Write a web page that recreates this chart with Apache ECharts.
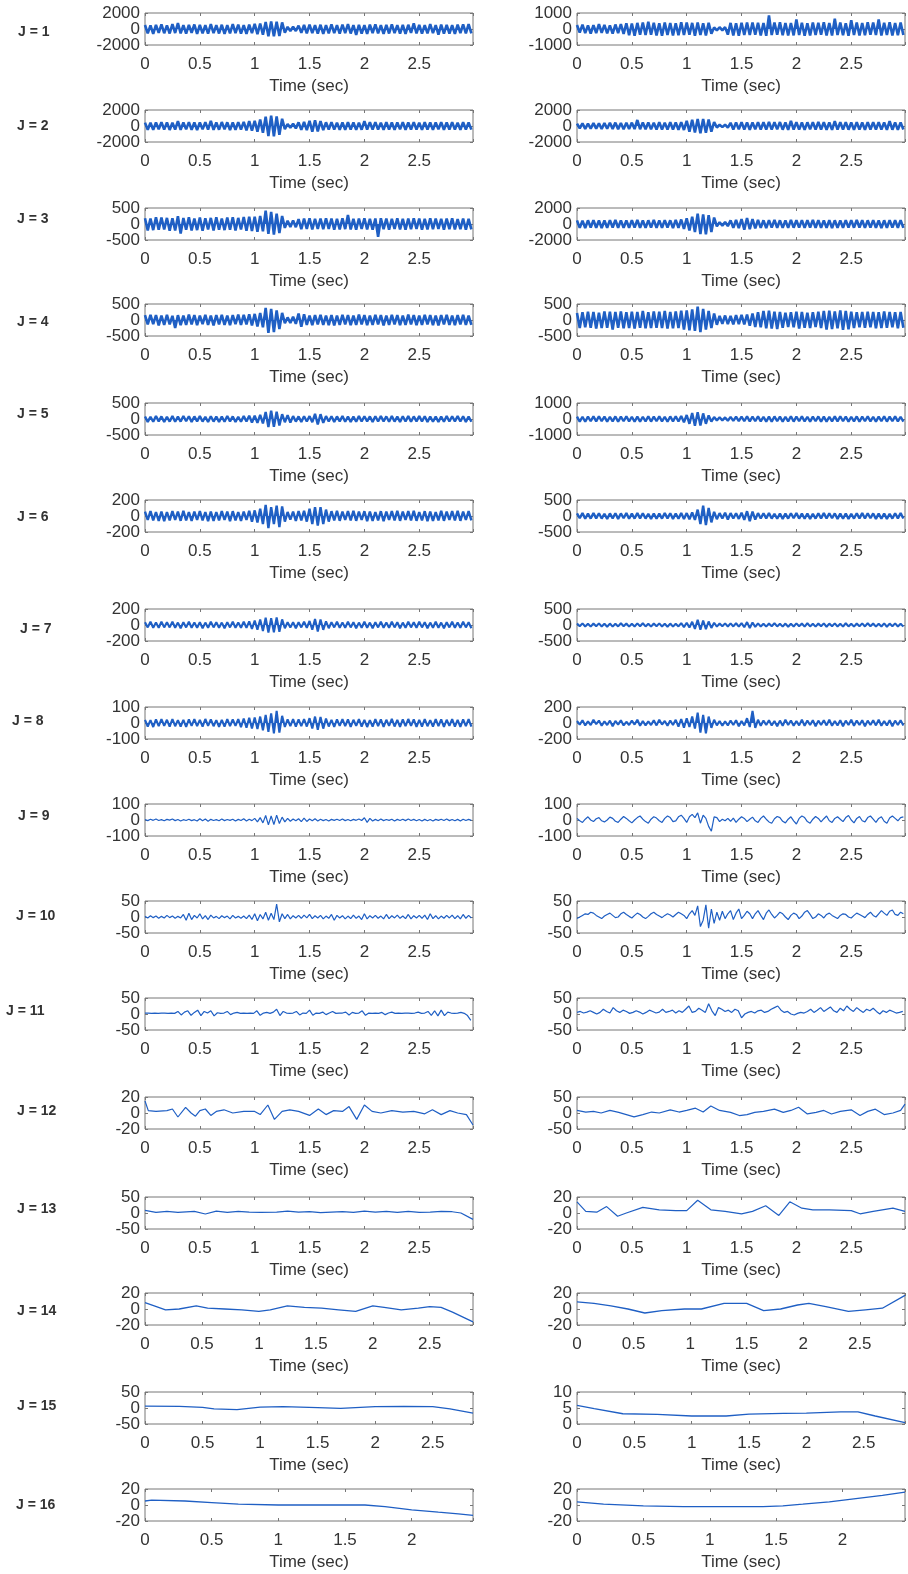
<!DOCTYPE html>
<html><head><meta charset="utf-8">
<script src="https://cdn.jsdelivr.net/npm/echarts@6/dist/echarts.min.js"></script>
<style>html,body{margin:0;padding:0;background:#fff}#c{width:908px;height:1574px}</style>
</head><body><div id="c"></div>
<script>
// ---------- DATA ----------
const rowLabels = ['J = 1','J = 2','J = 3','J = 4','J = 5','J = 6','J = 7','J = 8','J = 9','J = 10','J = 11','J = 12','J = 13','J = 14','J = 15','J = 16'];
const xTickLabels = ['0','0.5','1','1.5','2','2.5'];
const xMaxL = [2.99,2.99,2.99,2.99,2.99,2.99,2.99,2.99,2.99,2.99,2.99,2.99,2.99,2.88,2.85,2.46];
const xMaxR = [2.99,2.99,2.99,2.99,2.99,2.99,2.99,2.99,2.99,2.99,2.99,2.99,2.99,2.9,2.86,2.47];
const yMinL = [-2000,-2000,-500,-500,-500,-200,-200,-100,-100,-50,-50,-20,-50,-20,-50,-20];
const yMaxL = [2000,2000,500,500,500,200,200,100,100,50,50,20,50,20,50,20];
const yMinR = [-1000,-2000,-2000,-500,-1000,-500,-500,-200,-100,-50,-50,-50,-20,-20,0,-20];
const yMaxR = [1000,2000,2000,500,1000,500,500,200,100,50,50,50,20,20,10,20];
const sampleDuration = 3; // seconds covered by the evenly sampled traces

const R1L = [500,-550,460,-600,520,-480,580,-530,450,-560,600,-500,750,-540,480,-590,520,-470,560,-610,500,-540,470,-580,610,-520,490,-560,530,-600,470,-550,620,-500,540,-580,480,-610,550,-520,650,-640,680,-700,880,-900,950,-920,900,-880,820,-450,260,-240,280,-250,420,-470,500,-530,560,-520,480,-570,530,-600,490,-550,580,-510,470,-590,540,-500,600,-560,480,-750,520,-570,490,-610,550,-500,580,-540,470,-600,510,-560,590,-520,480,-570,500,-620,530,-490,700,-560,520,-590,480,-550,600,-520,490,-700,540,-580,510,-560,470,-600,550,-500,580,-540,620,-560];
const R1R = [250,-230,270,-260,220,-280,240,-250,300,-240,260,-270,230,-290,280,-250,310,-300,360,-390,340,-420,380,-350,410,-380,450,-360,390,-400,350,-420,400,-370,380,-410,360,-390,420,-370,400,-350,380,-420,410,-380,360,-400,390,-300,100,-90,110,-80,120,-350,380,-400,360,-420,390,-370,400,-380,410,-360,390,-400,370,-420,850,-380,400,-360,420,-390,370,-410,380,-400,600,-370,390,-420,360,-400,410,-380,390,-360,420,-400,380,-410,650,-370,400,-390,360,-420,550,-380,410,-400,370,-390,420,-360,400,-380,600,-410,390,-370,420,-400,380,-390,410,-370];
const R2L = [420,-460,400,-480,440,-410,470,-450,430,-490,410,-440,600,-470,450,-420,480,-460,430,-500,450,-420,470,-440,650,-480,430,-460,490,-420,460,-500,440,-470,480,-430,520,-560,600,-580,650,-700,800,-850,1150,-1250,1300,-1280,1200,-1100,900,-400,250,-230,280,-300,450,-480,500,-520,650,-700,720,-680,600,-500,460,-430,480,-450,420,-470,440,-460,470,-430,450,-480,420,-460,600,-440,470,-430,480,-450,420,-470,460,-440,430,-480,450,-420,470,-460,440,-430,480,-450,420,-470,460,-440,430,-480,450,-420,470,-460,440,-430,480,-450,420,-470,460,-440,430,-450];
const R2R = [300,-280,320,-350,300,-330,360,-320,340,-370,380,-350,400,-360,420,-390,380,-410,400,-370,420,-380,750,-400,430,-410,450,-420,400,-440,460,-430,420,-450,470,-440,430,-460,480,-500,650,-700,780,-820,880,-900,870,-850,800,-700,500,-180,150,-140,160,-200,400,-430,450,-420,470,-440,430,-460,450,-420,480,-440,460,-430,500,-450,470,-420,490,-460,430,-480,650,-440,470,-450,430,-490,460,-420,480,-450,500,-430,470,-460,440,-480,620,-450,470,-430,490,-460,440,-480,470,-450,430,-470,490,-440,460,-430,480,-450,440,-470,600,-460,430,-480,450,-440];
const R3L = [180,-200,170,-190,210,-180,200,-170,190,-210,180,-200,240,-300,190,-180,210,-200,170,-190,200,-210,180,-170,190,-200,210,-180,170,-190,200,-180,210,-200,190,-170,220,-210,230,-220,230,-240,250,-230,420,-310,380,-330,320,-280,250,-120,100,-90,110,-100,150,-160,170,-150,180,-170,160,-150,170,-160,180,-150,170,-180,160,-170,180,-160,280,-170,160,-180,170,-150,180,-170,160,-180,170,-400,180,-160,170,-180,160,-150,180,-170,160,-180,170,-160,180,-150,170,-180,160,-170,180,-160,170,-150,160,-180,170,-160,180,-170,150,-160,170,-180,160,-170];
const R3R = [450,-480,420,-500,460,-430,490,-470,440,-510,430,-460,480,-440,500,-470,450,-490,430,-460,480,-450,500,-470,440,-490,460,-430,510,-480,450,-470,490,-440,460,-500,520,-480,560,-600,700,-800,900,-1000,1300,-1250,1200,-1300,1100,-1000,800,-300,220,-200,240,-260,450,-480,500,-520,600,-700,750,-650,600,-550,500,-480,460,-500,480,-450,500,-470,460,-490,440,-480,500,-460,470,-450,490,-480,460,-440,500,-470,480,-460,450,-490,470,-500,460,-480,440,-470,490,-450,480,-460,500,-440,470,-490,460,-450,480,-470,440,-500,460,-480,490,-450,470,-460,480,-490];
const R4L = [150,-140,160,-130,150,-170,140,-150,160,-140,130,-250,150,-160,140,-150,170,-140,150,-160,140,-130,160,-150,140,-170,150,-140,160,-150,140,-160,150,-130,170,-150,160,-140,180,-170,190,-200,220,-230,380,-400,350,-380,300,-280,220,-100,80,-90,100,-120,200,-210,180,-150,140,-160,150,-140,160,-150,140,-160,150,-170,140,-150,160,-140,150,-160,140,-150,170,-140,150,-160,140,-150,160,-140,150,-170,140,-150,160,-140,150,-160,140,-150,170,-140,150,-160,140,-150,160,-140,150,-160,140,-170,150,-140,160,-150,140,-160,150,-140,160,-150,140,-150];
const R4R = [220,-250,240,-230,260,-240,250,-270,230,-250,270,-240,260,-300,250,-240,270,-260,240,-250,260,-270,250,-240,280,-260,240,-250,270,-240,260,-250,280,-270,250,-260,270,-250,290,-300,300,-320,330,-340,420,-380,350,-300,280,-250,200,-150,130,-120,140,-130,130,-140,150,-130,160,-140,170,-180,200,-220,240,-230,280,-260,290,-270,260,-280,250,-240,230,-220,240,-230,260,-270,250,-240,230,-250,240,-220,260,-250,280,-300,290,-280,270,-260,300,-310,280,-290,260,-250,240,-230,250,-240,260,-230,250,-260,240,-250,270,-240,250,-230,240,-260,250,-240];
const R5L = [80,-90,70,-85,90,-75,80,-95,70,-80,90,-85,75,-80,95,-70,85,-90,80,-75,90,-80,70,-95,85,-80,75,-90,80,-85,95,-75,80,-90,70,-85,90,-80,100,-110,100,-120,130,-140,220,-250,260,-240,230,-200,150,-100,120,-110,90,-80,80,-90,85,-80,90,-100,160,-170,150,-120,90,-80,85,-90,80,-75,90,-85,80,-90,75,-85,90,-80,85,-75,80,-90,85,-80,90,-75,80,-85,90,-80,75,-90,85,-80,90,-85,80,-75,90,-80,85,-90,80,-85,75,-90,80,-85,90,-80,85,-75,90,-80,85,-90,80,-85];
const R5R = [150,-160,140,-170,150,-140,160,-150,170,-140,150,-160,140,-150,160,-170,150,-140,160,-150,140,-170,150,-160,140,-150,170,-160,150,-140,160,-150,140,-170,160,-150,170,-160,190,-200,250,-300,380,-420,430,-400,350,-300,220,-160,120,-100,110,-90,100,-110,130,-120,140,-130,150,-140,160,-150,150,-140,160,-150,140,-160,150,-170,160,-140,150,-160,140,-150,170,-160,150,-140,160,-150,140,-160,150,-140,160,-170,150,-160,140,-150,160,-150,170,-140,150,-160,140,-150,160,-170,150,-140,160,-150,140,-160,150,-140,170,-160,150,-140,160,-150,140,-160];
const R6L = [55,-50,60,-55,50,-60,55,-65,50,-55,60,-50,55,-60,65,-55,50,-60,55,-50,60,-55,50,-65,55,-60,50,-55,60,-50,55,-65,60,-55,50,-60,55,-50,65,-70,70,-80,90,-100,140,-150,110,-100,130,-140,120,-70,50,-45,55,-60,60,-55,65,-70,90,-100,110,-120,110,-100,80,-70,60,-55,65,-60,55,-50,60,-55,65,-60,55,-50,60,-65,55,-60,50,-55,60,-65,55,-50,60,-55,65,-60,55,-50,60,-55,65,-60,50,-55,60,-65,55,-60,50,-55,65,-60,55,-50,60,-55,65,-60,55,-50,60,-55];
const R6R = [80,-70,90,-85,75,-80,90,-75,85,-80,70,-90,80,-75,85,-90,80,-70,90,-85,75,-80,90,-75,85,-80,70,-90,80,-85,75,-80,90,-75,85,-90,80,-85,90,-95,90,-100,110,-120,200,-250,320,-280,250,-200,130,-100,90,-80,100,-110,90,-80,85,-90,100,-120,150,-160,140,-110,90,-80,85,-75,90,-80,70,-85,80,-90,75,-80,85,-70,90,-80,75,-85,80,-90,70,-80,85,-75,90,-80,85,-70,80,-90,75,-85,80,-90,70,-80,85,-75,90,-80,85,-70,80,-90,75,-85,80,-90,70,-80,85,-75,90,-80];
const R7L = [35,-30,40,-35,30,-35,40,-30,35,-30,40,-35,30,-40,35,-30,40,-35,30,-35,35,-40,30,-35,40,-30,35,-35,30,-40,35,-30,40,-35,30,-35,40,-35,45,-50,55,-60,70,-75,90,-95,85,-90,95,-85,70,-40,35,-30,35,-40,35,-30,40,-35,50,-60,75,-80,70,-60,45,-40,35,-30,40,-35,30,-35,40,-30,35,-40,30,-35,40,-35,30,-40,35,-30,40,-35,30,-35,40,-30,35,-40,30,-35,40,-30,35,-35,40,-30,35,-40,30,-35,40,-35,30,-40,35,-30,40,-35,30,-35,40,-30,35,-40];
const R7R = [45,-40,50,-45,40,-50,45,-40,50,-45,40,-55,45,-50,40,-45,55,-40,45,-50,40,-45,50,-40,55,-45,40,-50,45,-40,50,-45,40,-55,45,-50,40,-45,60,-65,70,-80,100,-120,160,-150,140,-130,110,-90,70,-50,45,-40,50,-45,50,-45,55,-50,60,-70,90,-95,80,-60,50,-45,40,-50,45,-40,55,-45,40,-50,45,-55,40,-45,50,-40,45,-50,55,-45,40,-50,45,-40,50,-55,45,-40,50,-45,40,-50,55,-45,40,-50,45,-40,50,-45,55,-40,45,-50,40,-45,50,-55,45,-40,50,-45,40,-50];
const R8L = [20,-22,18,-25,22,-20,24,-18,20,-23,25,-20,18,-22,20,-25,22,-18,24,-20,20,-22,25,-18,22,-20,18,-24,20,-22,25,-20,22,-18,24,-26,28,-30,32,-35,35,-38,40,-45,50,-55,60,-65,75,-60,45,-25,22,-20,24,-22,22,-20,25,-22,30,-35,40,-42,38,-35,28,-22,20,-25,22,-18,24,-20,22,-25,20,-18,24,-22,20,-25,18,-22,24,-20,22,-25,20,-18,26,-22,20,-24,22,-20,25,-18,22,-24,20,-22,25,-20,18,-22,24,-20,22,-25,20,-18,24,-22,20,-25,22,-20,24,-22];
const R8R = [25,-20,35,-30,20,-25,40,-15,30,-35,20,-25,30,-40,25,-20,35,-30,15,-25,30,-20,40,-35,25,-30,20,-25,35,-30,40,-20,25,-35,30,-25,40,-45,50,-60,60,-50,80,-70,130,-120,100,-130,80,-60,40,-30,25,-35,20,-30,30,-25,35,-40,25,-30,60,-50,150,-60,40,-35,30,-25,35,-30,25,-40,30,-35,40,-25,30,-35,25,-30,40,-35,30,-25,35,-40,30,-25,35,-30,40,-35,25,-30,35,-40,30,-25,40,-35,30,-25,35,-40,30,-25,35,-30,40,-35,25,-30,35,-40,30,-25,35,-30];
const R9L = [3,-4,5,-2,6,-3,2,-5,4,-1,6,-4,3,-6,2,-3,5,-4,2,-6,8,-5,6,-8,4,-3,2,-5,6,-4,3,-2,5,-6,4,-3,8,-6,5,-4,10,-12,15,-18,28,-30,25,-28,30,-22,18,-12,10,-8,6,-5,8,-10,12,-9,6,-5,8,-6,5,-4,3,-6,4,-2,5,-3,6,-4,3,-5,4,-2,6,-3,14,-15,10,-6,4,-5,6,-4,3,-2,5,-6,4,-3,5,-4,6,-3,4,-5,3,-6,4,-5,3,-6,4,-2,5,-3,6,-4,3,-5,4,-6,5,-3,4,-2];
const R9R = [10,-5,-15,5,20,0,-10,8,15,-5,-12,0,18,10,-8,-15,5,22,10,-5,-18,0,15,25,5,-10,-20,5,20,12,-5,-15,10,25,15,-10,-5,20,30,10,-15,20,35,15,45,-20,30,10,-40,-70,20,15,-10,5,-5,10,-8,12,-15,5,20,10,-10,5,18,-5,-15,10,25,5,-12,-20,8,22,15,-8,-18,5,20,-5,-25,10,25,15,-10,-20,5,22,10,-12,8,25,-5,-15,10,20,5,-10,15,28,0,-18,10,22,-5,-12,15,25,5,-15,10,20,-8,-20,12,25,10,-5,15,20];
const R10L = [2,-3,4,-2,3,-4,2,-3,5,-2,3,-4,2,-3,8,-10,12,-8,5,-3,10,-6,4,-8,6,-3,2,-5,4,-2,3,-6,5,-3,2,-4,3,-5,6,-8,10,-12,8,-6,15,-10,12,-8,40,-15,10,-5,8,-6,4,-3,5,-4,6,-3,8,-5,4,-3,5,-6,3,-4,8,-10,5,-3,4,-6,3,-5,6,-4,3,-8,10,-6,4,-3,5,-4,3,-6,8,-5,4,-3,6,-4,3,-5,8,-6,4,-3,5,-4,6,-8,10,-5,4,-6,3,-4,5,-3,6,-5,4,-6,8,-4,5,-3];
const R10R = [-5,0,5,10,8,15,12,5,0,-5,3,8,12,5,-2,0,10,15,8,2,-3,5,12,8,0,-5,2,10,15,8,3,-2,5,10,6,0,8,15,10,5,-5,10,20,5,35,-30,-10,38,-35,25,-20,15,-10,18,-5,10,20,-8,12,25,-5,5,18,10,-5,10,20,5,-8,12,22,8,-3,5,15,10,0,-8,5,12,8,-5,3,15,20,8,-5,0,10,5,-3,8,12,5,0,-5,5,10,8,0,-3,5,12,8,3,-2,8,15,5,0,10,20,12,5,18,22,8,5,15,10];
const R11L = [3,3,2,3,2,3,3,2,3,2,8,-3,6,10,-4,5,12,-5,8,3,10,-6,4,2,3,8,-2,3,5,2,3,2,3,2,10,-4,3,5,2,6,15,-5,8,3,2,3,8,-3,3,2,12,-4,3,2,6,-2,3,8,2,3,3,6,-3,5,2,3,10,-4,3,2,3,2,5,-2,3,6,2,3,2,3,3,2,3,6,2,3,8,-4,10,-6,12,-5,6,3,2,3,5,2,-5,-20];
const R11R = [5,8,3,6,10,5,0,5,15,8,3,20,10,5,12,8,2,5,10,6,0,5,12,8,3,6,15,5,8,12,3,10,5,15,25,5,8,18,12,5,32,10,-5,20,15,8,12,5,15,10,-12,0,5,8,3,10,12,5,8,15,20,25,12,5,8,0,-3,2,5,3,8,15,5,12,20,8,15,22,10,5,18,10,25,15,8,20,12,5,15,10,18,8,0,10,5,12,8,3,5,8];
const R12L = [[0,15],[0.03,3],[0.1,2],[0.2,3],[0.25,5],[0.3,-5],[0.37,7],[0.42,0],[0.46,-4],[0.5,3],[0.55,5],[0.6,-3],[0.65,2],[0.72,4],[0.8,0],[0.9,2],[1.0,2],[1.05,-2],[1.12,10],[1.18,-8],[1.25,2],[1.32,4],[1.4,2],[1.5,-3],[1.58,5],[1.65,-2],[1.72,3],[1.8,2],[1.86,8],[1.93,-8],[2.0,10],[2.07,2],[2.15,0],[2.25,3],[2.35,1],[2.45,2],[2.55,-1],[2.62,4],[2.7,-2],[2.78,3],[2.85,0],[2.93,-2],[2.99,-15]];
const R12R = [[0,8],[0.08,3],[0.15,5],[0.22,0],[0.3,8],[0.38,2],[0.45,-5],[0.52,-12],[0.6,-5],[0.68,3],[0.75,0],[0.85,10],[0.93,3],[1.0,8],[1.08,15],[1.15,3],[1.22,22],[1.3,8],[1.4,2],[1.48,-8],[1.55,-5],[1.62,2],[1.7,5],[1.8,12],[1.88,2],[1.95,8],[2.02,18],[2.1,-3],[2.18,2],[2.25,8],[2.32,-3],[2.4,5],[2.5,10],[2.58,-8],[2.65,5],[2.72,12],[2.8,-5],[2.88,0],[2.95,8],[2.99,28]];
const R13L = [[0,8],[0.1,2],[0.2,5],[0.3,2],[0.45,5],[0.55,-3],[0.65,6],[0.75,2],[0.85,5],[0.95,3],[1.05,2],[1.2,3],[1.3,6],[1.4,3],[1.5,4],[1.6,1],[1.7,3],[1.8,4],[1.9,2],[2.0,6],[2.1,3],[2.2,5],[2.3,2],[2.4,5],[2.5,2],[2.6,3],[2.7,5],[2.8,4],[2.88,0],[2.99,-20]];
const R13R = [[0,14],[0.08,2],[0.18,1],[0.27,8],[0.37,-4],[0.45,0],[0.6,7],[0.75,4],[0.9,3],[1.0,3],[1.1,16],[1.22,4],[1.35,2],[1.5,-1],[1.6,2],[1.72,9],[1.84,-3],[1.94,14],[2.05,6],[2.15,4],[2.3,4],[2.5,3],[2.58,-1],[2.7,2],[2.88,6],[2.99,2]];
const R14L = [[0,8],[0.1,3],[0.18,-1],[0.3,0],[0.45,4],[0.55,1],[0.7,0],[0.85,-1],[1.0,-3],[1.1,-1],[1.25,4],[1.4,2],[1.55,1],[1.7,-1],[1.85,-3],[2.0,4],[2.1,2],[2.25,-1],[2.4,1],[2.5,3],[2.6,2],[2.7,-4],[2.88,-16]];
const R14R = [[0,9],[0.15,7],[0.3,4],[0.45,0],[0.6,-5],[0.75,-2],[0.95,0],[1.1,0],[1.3,7],[1.5,7],[1.65,-2],[1.8,0],[1.95,5],[2.05,7],[2.2,3],[2.4,-3],[2.55,-1],[2.7,1],[2.9,17]];
const R15L = [[0,6],[0.3,5],[0.5,2],[0.6,-3],[0.8,-5],[1.0,3],[1.2,4],[1.5,1],[1.7,-1],[2.0,4],[2.25,5],[2.5,4],[2.65,-3],[2.85,-16]];
const R15R = [[0,5.8],[0.15,4.8],[0.4,3.2],[0.7,3],[1.0,2.5],[1.3,2.5],[1.5,3.1],[1.8,3.3],[2.0,3.4],[2.3,3.8],[2.45,3.8],[2.6,2.5],[2.86,0.4]];
const R16L = [[0,5],[0.05,6],[0.3,5],[0.5,3],[0.7,1],[1.0,0],[1.3,0],[1.65,0],[1.8,-2],[2.0,-6],[2.2,-9],[2.35,-11],[2.46,-13]];
const R16R = [[0,4],[0.2,1],[0.5,-1],[0.8,-2],[1.0,-2],[1.4,-2],[1.55,-1],[1.7,1],[1.9,4],[2.1,8],[2.3,12],[2.47,16]];

const seriesL = [R1L,R2L,R3L,R4L,R5L,R6L,R7L,R8L,R9L,R10L,R11L,R12L,R13L,R14L,R15L,R16L];
const seriesR = [R1R,R2R,R3R,R4R,R5R,R6R,R7R,R8R,R9R,R10R,R11R,R12R,R13R,R14R,R15R,R16R];

// ---------- LAYOUT ----------
const colLeft = [145, 577], colWidth = [328, 329], boxH = 32;
const rowTop = [13,110,208,304,403,500,609,707,804,901,998,1097,1197,1293,1392,1489];
const labelPos = [[18,33],[17,127],[17,220],[17,323],[17,415],[17,518],[20,630],[12,722],[18,817],[16,917],[6,1012],[17,1112],[17,1210],[17,1312],[17,1407],[16,1506]];
const lineWidthByRow = [2.6,2.6,2.6,2.6,2.4,2.4,2.1,2.1,1.2,1.2,1.2,1.2,1.2,1.3,1.3,1.3];
const FONT = '"Liberation Sans", Arial, Helvetica, sans-serif';
const TXT = '#333', EDGE = '#777', LINE = '#1f5fc4';

function toXY(arr){
  if (Array.isArray(arr[0])) return arr;
  return arr.map((v,i)=>[i*sampleDuration/arr.length, v]);
}
function xLabel(v){
  const r = Math.round(v*2)/2;
  if (Math.abs(v-r) > 1e-6) return '';
  const s = String(r);
  return xTickLabels.indexOf(s) >= 0 ? s : '';
}

const grid=[], xAxis=[], yAxis=[], series=[], graphic=[];
for (let r=0; r<16; r++){
  for (let c=0; c<2; c++){
    const k = grid.length;
    const xmax = c ? xMaxR[r] : xMaxL[r];
    const ymin = c ? yMinR[r] : yMinL[r];
    const ymax = c ? yMaxR[r] : yMaxL[r];
    const ymid = (ymin + ymax) / 2;
    const data = c ? seriesR[r] : seriesL[r];
    grid.push({left: colLeft[c], top: rowTop[r], width: colWidth[c], height: boxH, show: true,
      borderColor: EDGE, borderWidth: 1, backgroundColor: 'rgba(0,0,0,0)', containLabel: false});
    const tick = {show: true, inside: true, length: 3, lineStyle: {color: EDGE, width: 1}};
    const lbl = {fontFamily: FONT, fontSize: 17, color: TXT};
    xAxis.push({gridIndex: k, type: 'value', position: 'bottom', min: 0, max: xmax, interval: 0.5,
      axisLine: {show: false, onZero: false}, axisTick: tick, splitLine: {show: false},
      axisLabel: Object.assign({show: true, margin: 11, formatter: xLabel}, lbl),
      name: 'Time (sec)', nameLocation: 'middle', nameGap: 33, nameTextStyle: lbl});
    xAxis.push({gridIndex: k, type: 'value', position: 'top', min: 0, max: xmax, interval: 0.5,
      axisLine: {show: false, onZero: false}, axisTick: tick, splitLine: {show: false},
      axisLabel: {show: false}});
    // main left axis: ticks + end labels (min / max)
    yAxis.push({gridIndex: k, type: 'value', position: 'left', min: ymin, max: ymax, interval: ymax-ymid,
      axisLine: {show: false, onZero: false}, axisTick: tick, splitLine: {show: false},
      axisLabel: Object.assign({show: true, margin: 5, showMinLabel: true, showMaxLabel: true,
        formatter: v => (v === ymid ? '' : String(v))}, lbl)});
    // right axis: ticks only
    yAxis.push({gridIndex: k, type: 'value', position: 'right', min: ymin, max: ymax, interval: ymax-ymid,
      axisLine: {show: false, onZero: false}, axisTick: tick, splitLine: {show: false},
      axisLabel: {show: false}});
    // extra left axis: middle label only
    yAxis.push({gridIndex: k, type: 'value', position: 'left', min: ymin, max: ymax, interval: ymax-ymid,
      axisLine: {show: false, onZero: false}, axisTick: {show: false}, splitLine: {show: false},
      axisLabel: Object.assign({show: true, margin: 5, showMinLabel: false, showMaxLabel: false,
        formatter: v => (v === ymid ? String(v) : '')}, lbl)});
    const s = {type: 'line', xAxisIndex: 2*k, yAxisIndex: 3*k, data: toXY(data),
      showSymbol: false, symbol: 'none', silent: true, animation: false, clip: true,
      lineStyle: {color: LINE, width: lineWidthByRow[r], join: 'bevel'}};
    if (r < 8) s.areaStyle = {color: LINE, opacity: 1, origin: 0};
    series.push(s);
  }
  graphic.push({type: 'text', left: labelPos[r][0], top: labelPos[r][1]-8,
    style: {text: rowLabels[r], font: 'bold 14px ' + FONT, fill: '#333'}});
}

const chart = echarts.init(document.getElementById('c'), null, {renderer: 'canvas', width: 908, height: 1574});
chart.setOption({animation: false, backgroundColor: '#fff', grid, xAxis, yAxis, series, graphic});
</script>
</body></html>
